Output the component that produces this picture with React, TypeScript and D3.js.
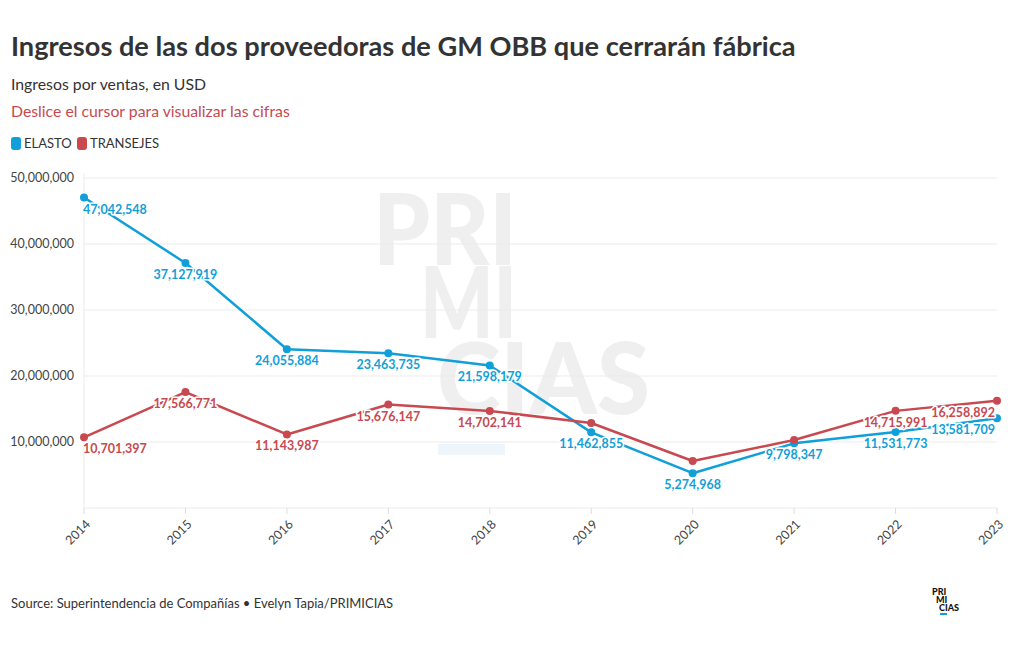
import React from "react";
import * as d3 from "d3";

const years = [2014, 2015, 2016, 2017, 2018, 2019, 2020, 2021, 2022, 2023];
const elasto = [47042548, 37127919, 24055884, 23463735, 21598179, 11462855, 5274968, 9798347, 11531773, 13581709];
const transejes = [10701397, 17566771, 11143987, 15676147, 14702141, 12880000, 7120000, 10300000, 14715991, 16258892];
const elastoShowLabel = [true, true, true, true, true, true, true, true, true, true];
const transejesShowLabel = [true, true, true, true, true, false, false, false, true, true];
const yTicks = [10000000, 20000000, 30000000, 40000000, 50000000];
const seriesNames = ["ELASTO", "TRANSEJES"];

const BLUE = "#109fd8";
const RED = "#c8494f";
const FONT = "Lato, 'Noto Sans', sans-serif";

export default function App() {
  const W = 1020, H = 650;
  const left = 84, right = 997, top = 178, bottom = 508;
  const x = d3.scaleLinear().domain([years[0], years[years.length - 1]]).range([left, right]);
  const y = d3.scaleLinear().domain([0, 50000000]).range([bottom, top]);
  const fmt = d3.format(",");
  const line = d3.line<number>().x((_, i) => x(years[i])).y((d) => y(d));

  const series = [
    { name: seriesNames[0], values: elasto, show: elastoShowLabel, color: BLUE },
    { name: seriesNames[1], values: transejes, show: transejesShowLabel, color: RED },
  ];

  const labelAnchor = (i: number) => (i === 0 ? "start" : i === years.length - 1 ? "end" : "middle");
  const labelDx = (i: number) => (i === 0 ? -1 : i === years.length - 1 ? -2 : 0);

  return (
    <svg width={W} height={H} style={{ position: "absolute", left: 0, top: 0, background: "#fff" }} fontFamily={FONT}>
      {/* watermark */}
      <g fill="#efefef" fontWeight={900} fontSize={100} fontFamily={FONT}>
        <text x={373} y={265} textLength={144} lengthAdjust="spacingAndGlyphs">PRI</text>
        <text x={420} y={338} textLength={97} lengthAdjust="spacingAndGlyphs">MI</text>
        <text x={437} y={414} textLength={213} lengthAdjust="spacingAndGlyphs">CIAS</text>
        <rect x={438} y={444} width={67} height={11} fill="#eef6fc" />
      </g>

      {/* title */}
      <text x={11} y={56} fontSize={27.2} fontWeight={700} fill="#333">Ingresos de las dos proveedoras de GM OBB que cerrarán fábrica</text>
      <text x={11} y={90} fontSize={15.8} fill="#333">Ingresos por ventas, en USD</text>
      <text x={11} y={117} fontSize={15.8} fill={RED}>Deslice el cursor para visualizar las cifras</text>

      {/* legend */}
      <rect x={11} y={137} width={10} height={13} rx={3} fill={BLUE} />
      <text x={24} y={148} fontSize={13} fill="#333">{seriesNames[0]}</text>
      <rect x={77} y={137} width={10} height={13} rx={3} fill={RED} />
      <text x={90} y={148} fontSize={13} fill="#333">{seriesNames[1]}</text>

      {/* grid */}
      {yTicks.map((t) => (
        <g key={t}>
          <line x1={left} x2={right} y1={y(t)} y2={y(t)} stroke="#ebebeb" strokeWidth={1} />
          <text x={74} y={y(t)} dy="0.35em" textAnchor="end" fontSize={12.5} fill="#444">{fmt(t)}</text>
        </g>
      ))}
      <line x1={left} x2={left} y1={top - 4} y2={bottom} stroke="#ebebeb" />
      <line x1={left} x2={right} y1={bottom} y2={bottom} stroke="#ebebeb" />
      {years.map((yr) => (
        <g key={yr}>
          <line x1={x(yr)} x2={x(yr)} y1={bottom} y2={bottom + 6} stroke="#ddd" />
          <text transform={`translate(${x(yr) + 4},${bottom + 14}) rotate(-45)`} textAnchor="end" dy="0.35em" fontSize={12.5} fill="#444">{yr}</text>
        </g>
      ))}

      {/* lines */}
      {series.map((s) => (
        <path key={s.name} d={line(s.values) || ""} fill="none" stroke={s.color} strokeWidth={2.5} strokeLinejoin="round" />
      ))}
      {series.map((s) => (
        <g key={s.name + "p"}>
          {s.values.map((v, i) => (
            <circle key={i} cx={x(years[i])} cy={y(v)} r={4} fill={s.color} />
          ))}
        </g>
      ))}
      {series.map((s) => (
        <g key={s.name + "l"}>
          {s.values.map((v, i) =>
            s.show[i] ? (
              <text key={i} x={x(years[i]) + labelDx(i)} y={y(v) + 16} textAnchor={labelAnchor(i)} fontSize={12.5} fontWeight={700}
                fill={s.color} stroke="#fff" strokeWidth={3} paintOrder="stroke" strokeLinejoin="round">{fmt(v)}</text>
            ) : null
          )}
        </g>
      ))}

      {/* source */}
      <text x={11} y={608} fontSize={13} fill="#333">Source: Superintendencia de Compañías • Evelyn Tapia/PRIMICIAS</text>
      <g fontSize={9} fontWeight={900} fill="#111">
        <text x={932} y={595}>PRI</text>
        <text x={936} y={603}>MI</text>
        <text x={939} y={611}>CIAS</text>
        <rect x={940} y={613} width={7} height={2} fill={BLUE} />
      </g>
    </svg>
  );
}
